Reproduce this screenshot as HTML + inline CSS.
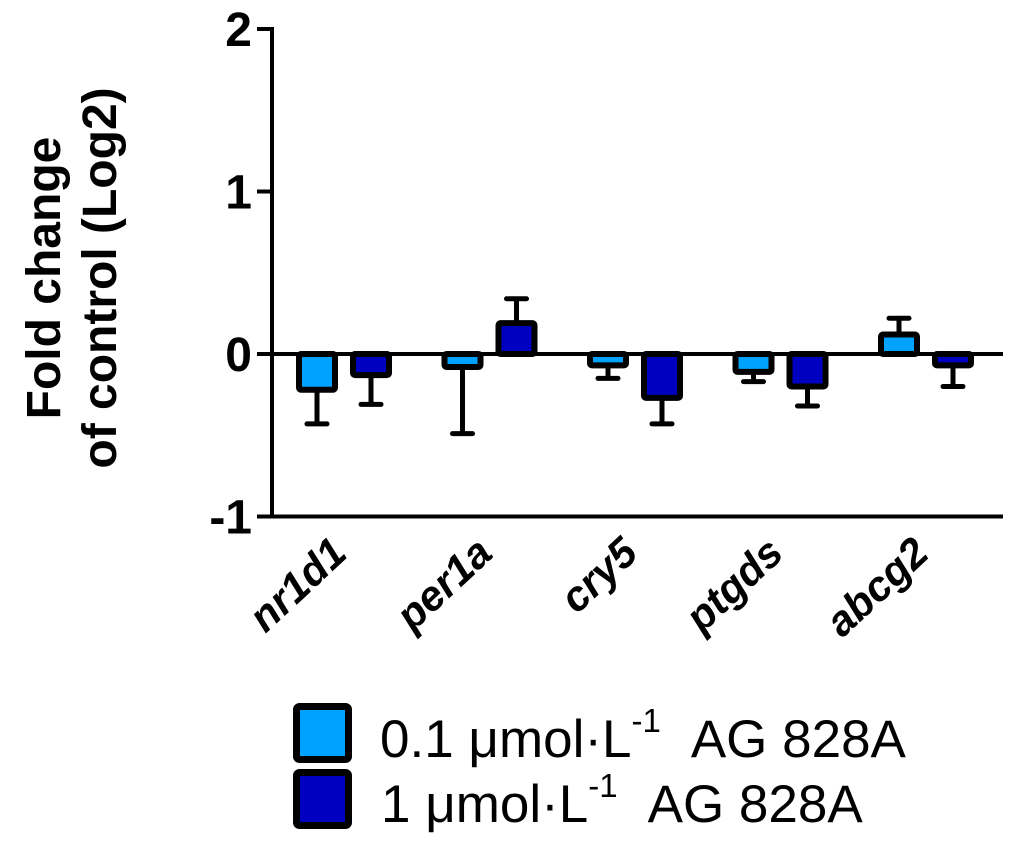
<!DOCTYPE html>
<html><head><meta charset="utf-8"><style>
body{margin:0;background:#fff;width:1024px;height:848px;overflow:hidden}
svg{font-family:"Liberation Sans",Arial,sans-serif}
</style></head><body>
<svg id="chart" width="1024" height="848" viewBox="0 0 1024 848">
<g id="axes"></g>
<g id="bars"></g>
<g font-weight="bold" font-size="48" text-anchor="middle">
<text transform="translate(60,278) rotate(-90)">Fold change</text>
<text transform="translate(116,278) rotate(-90)">of control (Log2)</text>
</g>
<g font-size="53">
<g>
<rect x="296.5" y="706.5" width="52" height="53" fill="#00a2ff" stroke="#000" stroke-width="7" rx="3"/>
<text x="380" y="757">0.1 μmol·L<tspan dy="-25" font-size="33">-1</tspan><tspan dy="25" dx="30">AG 828A</tspan></text>
</g>
<g>
<rect x="296.5" y="772.5" width="52" height="53" fill="#0000c0" stroke="#000" stroke-width="7" rx="3"/>
<text x="381" y="822">1 μmol·L<tspan dy="-25" font-size="33">-1</tspan><tspan dy="25" dx="30">AG 828A</tspan></text>
</g>
</g>
</svg>
<script>
const categories=["nr1d1","per1a","cry5","ptgds","abcg2"];
const lowDose=[-0.22,-0.08,-0.07,-0.11,0.12];
const lowErr=[0.21,0.41,0.08,0.06,0.10];
const highDose=[-0.13,0.19,-0.27,-0.20,-0.07];
const highErr=[0.18,0.15,0.16,0.12,0.13];
const yTicks=[2,1,0,-1];
const NS="http://www.w3.org/2000/svg";
const y=v=>354-v*162.5;
const gx=i=>345+i*145.5;
const axes=document.getElementById('axes'),bars=document.getElementById('bars');
function mk(tag,attrs,parent){const e=document.createElementNS(NS,tag);for(const k in attrs)e.setAttribute(k,attrs[k]);parent.appendChild(e);return e;}
let l=mk('line',{x1:272,y1:y(2)-2,x2:272,y2:y(-1)+2,stroke:'#000','stroke-width':4},axes);


l=mk('line',{x1:270,y1:y(-1),x2:1003,y2:y(-1),stroke:'#000','stroke-width':4},axes);


yTicks.forEach(t=>{
 const tk=mk('line',{x1:257,y1:y(t),x2:272,y2:y(t),stroke:'#000','stroke-width':4},axes);
 
 
 const tx=mk('text',{x:252,y:y(t)+17,'text-anchor':'end','font-size':48,'font-weight':'bold'},axes);
 tx.textContent=t;
 
 
});
function bar(cx,v,err,color,name){
 const top=Math.min(y(0),y(v)),h=Math.abs(y(v)-y(0));
 const ey=v>=0?y(v+err):y(v-err);
 const ew=mk('line',{x1:cx,y1:y(v),x2:cx,y2:ey,stroke:'#000','stroke-width':5},bars);
 
 
 const ec=mk('line',{x1:cx-10,y1:ey,x2:cx+10,y2:ey,stroke:'#000','stroke-width':5,'stroke-linecap':'round'},bars);
 
 
 const r=mk('rect',{x:cx-18,y:top,width:36,height:Math.max(h,1),fill:color,stroke:'#000','stroke-width':6,rx:2},bars);
 
 
}
categories.forEach((c,i)=>{
 bar(gx(i)-28,lowDose[i],lowErr[i],'#00a2ff','bar-'+c+'-low');
 bar(gx(i)+26,highDose[i],highErr[i],'#0000c0','bar-'+c+'-high');
 const tx=mk('text',{transform:`translate(${gx(i)+4},${556}) rotate(-43)`,'text-anchor':'end','font-size':42,'font-weight':'bold','font-style':'italic'},axes);
 tx.textContent=c;
 
 
});
l=mk('line',{x1:257,y1:y(0),x2:1003,y2:y(0),stroke:'#000','stroke-width':4},bars);


</script>
</body></html>
